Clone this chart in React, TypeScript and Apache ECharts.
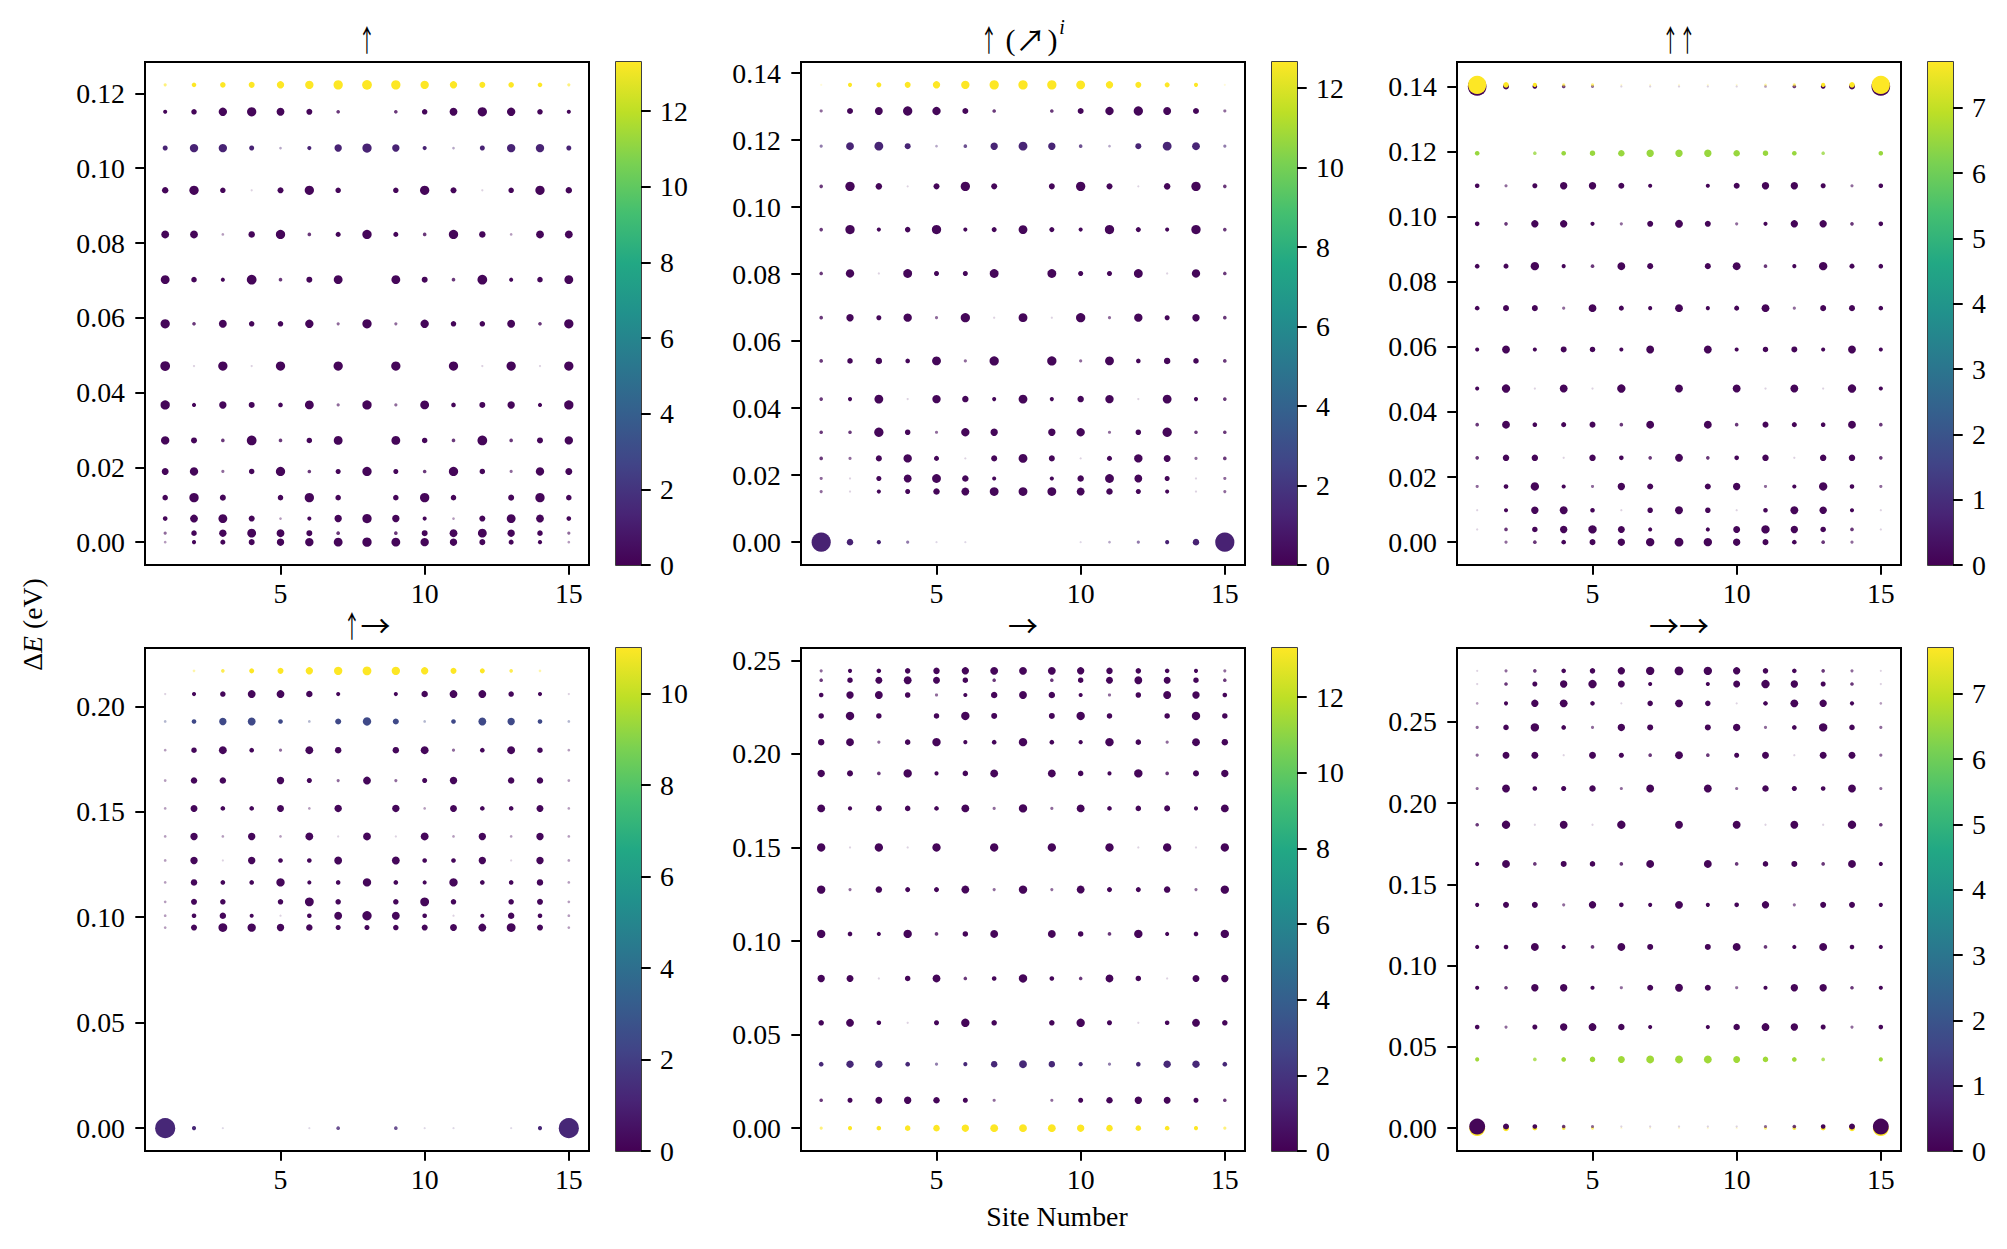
import { useEffect, useRef } from "react";
import * as echarts from "echarts";

// ---------------- DATA ----------------
const sites = [1, 2, 3, 4, 5, 6, 7, 8, 9, 10, 11, 12, 13, 14, 15];
const xTicks = [5, 10, 15];

// Panel A: ↑
const levelsA = [0.1223, 0.1151, 0.1054, 0.0941, 0.0823, 0.0702, 0.0584, 0.0471, 0.0367, 0.0272, 0.0189, 0.0119, 0.0063, 0.0024, 0.0];
const colorsA = [13.3, 0.2, 1.3, 0.2, 0.2, 0.2, 0.2, 0.2, 0.2, 0.2, 0.2, 0.2, 0.2, 0.2, 0.2];
const weightsA = [
  [4, 7, 9, 10, 13, 15, 17, 18, 17, 15, 13, 10, 9, 7, 4],
  [6, 9, 15, 17, 14, 10, 5, 0, 5, 9, 14, 17, 15, 9, 6],
  [8, 15, 15, 8, 3, 6, 13, 17, 13, 6, 3, 8, 15, 15, 8],
  [11, 17, 9, 2, 10, 17, 9, 0, 9, 17, 10, 2, 9, 17, 11],
  [14, 14, 3, 11, 17, 5, 8, 17, 8, 5, 17, 11, 3, 14, 14],
  [16, 9, 6, 18, 5, 10, 16, 0, 16, 10, 5, 18, 6, 9, 16],
  [17, 5, 14, 9, 9, 15, 4, 17, 4, 15, 9, 9, 14, 5, 17],
  [18, 2, 17, 2, 17, 0, 17, 0, 17, 0, 17, 2, 17, 2, 17],
  [17, 6, 13, 10, 7, 16, 4, 17, 4, 16, 7, 10, 13, 6, 17],
  [15, 10, 5, 18, 5, 9, 16, 0, 16, 9, 5, 18, 5, 10, 15],
  [12, 15, 4, 9, 17, 5, 8, 17, 8, 5, 17, 9, 4, 15, 12],
  [9, 17, 10, 0, 9, 17, 9, 0, 9, 17, 9, 0, 10, 17, 9],
  [7, 14, 16, 10, 3, 6, 13, 17, 13, 6, 3, 10, 16, 14, 7],
  [4, 9, 13, 16, 14, 10, 5, 0, 5, 10, 14, 16, 13, 9, 4],
  [3, 6, 8, 10, 13, 15, 16, 17, 16, 15, 13, 10, 8, 6, 3],
];

// Panel B: ↑(↗)^i
const levelsB = [0.1365, 0.1287, 0.1182, 0.1062, 0.0933, 0.0802, 0.067, 0.0541, 0.0427, 0.0328, 0.025, 0.019, 0.0151, 0.0];
const colorsB = [12.66, 0.2, 1.3, 0.2, 0.2, 0.2, 0.2, 0.2, 0.2, 0.2, 0.2, 0.2, 0.2, 1.2];
const weightsB = [
  [2, 6, 8, 10, 13, 15, 17, 17, 17, 16, 13, 10, 8, 6, 2],
  [4, 10, 14, 17, 15, 10, 5, 0, 5, 10, 15, 17, 14, 10, 4],
  [4, 14, 16, 10, 3, 5, 13, 16, 13, 5, 3, 10, 16, 14, 4],
  [5, 17, 11, 2, 10, 17, 10, 0, 10, 17, 10, 2, 11, 17, 5],
  [5, 17, 6, 9, 17, 6, 8, 16, 8, 6, 17, 8, 6, 17, 5],
  [5, 15, 2, 16, 8, 8, 16, 0, 16, 8, 8, 16, 2, 15, 5],
  [5, 13, 8, 15, 4, 17, 2, 16, 2, 17, 4, 15, 8, 13, 5],
  [5, 9, 11, 7, 16, 4, 17, 0, 17, 4, 16, 7, 11, 9, 5],
  [5, 6, 16, 2, 15, 11, 6, 16, 6, 11, 15, 2, 16, 6, 5],
  [5, 5, 17, 9, 4, 15, 13, 0, 13, 15, 4, 9, 17, 5, 5],
  [5, 4, 10, 15, 8, 2, 10, 16, 10, 2, 8, 15, 12, 4, 5],
  [4, 2, 8, 14, 16, 11, 6, 0, 6, 11, 16, 14, 8, 2, 4],
  [4, 2, 6, 8, 11, 14, 16, 16, 16, 14, 11, 8, 6, 2, 4],
  [38, 11, 6, 4, 2, 2, 0, 0, 0, 2, 3, 4, 6, 11, 38],
];

// Panel C: ↑↑
const levelsC = [0.14, 0.1405, 0.1195, 0.1095, 0.0978, 0.0848, 0.0719, 0.0592, 0.0472, 0.0361, 0.0259, 0.0171, 0.0098, 0.0039, 0.0];
const colorsC = [0.1, 7.7, 6.5, 0.1, 0.1, 0.1, 0.1, 0.1, 0.1, 0.1, 0.1, 0.1, 0.1, 0.1, 0.1];
const weightsC = [
  [37, 10, 7, 5, 4, 2, 2, 2, 2, 2, 3, 5, 7, 10, 37],
  [36, 9, 6, 4, 4, 2, 2, 2, 2, 2, 3, 4, 6, 9, 36],
  [7, 0, 5, 7, 9, 11, 13, 13, 13, 11, 9, 7, 5, 0, 7],
  [7, 4, 8, 13, 13, 10, 6, 0, 6, 10, 13, 13, 8, 4, 7],
  [7, 5, 13, 13, 6, 4, 10, 14, 10, 4, 6, 13, 13, 5, 7],
  [7, 8, 15, 6, 5, 14, 10, 0, 10, 14, 5, 6, 15, 8, 7],
  [7, 10, 10, 4, 14, 8, 6, 14, 6, 8, 14, 4, 10, 10, 7],
  [6, 14, 6, 10, 9, 6, 14, 0, 14, 6, 9, 10, 6, 14, 6],
  [6, 15, 2, 14, 2, 15, 0, 14, 0, 14, 2, 14, 2, 15, 6],
  [5, 14, 7, 8, 10, 5, 14, 0, 14, 5, 10, 8, 7, 14, 5],
  [5, 11, 11, 2, 11, 7, 5, 14, 5, 7, 11, 2, 11, 11, 5],
  [4, 7, 15, 6, 4, 13, 10, 0, 10, 13, 4, 6, 15, 7, 4],
  [2, 6, 13, 14, 7, 2, 9, 14, 9, 2, 7, 14, 13, 6, 2],
  [2, 5, 9, 13, 15, 12, 6, 0, 6, 12, 15, 13, 9, 5, 2],
  [0, 4, 5, 7, 10, 13, 15, 16, 15, 13, 10, 7, 5, 4, 0],
];

// Panel D: ↑→
const levelsD = [0.2168, 0.2058, 0.1928, 0.1792, 0.1648, 0.1516, 0.1383, 0.1269, 0.1165, 0.1073, 0.1007, 0.0951, 0.0];
const colorsD = [11.0, 0.2, 2.4, 0.2, 0.2, 0.2, 0.2, 0.2, 0.2, 0.2, 0.2, 0.2, 1.2];
const weightsD = [
  [0, 3, 5, 8, 10, 13, 15, 16, 15, 13, 10, 8, 5, 3, 0],
  [2, 6, 9, 14, 14, 11, 6, 0, 6, 11, 14, 14, 9, 6, 2],
  [3, 7, 13, 14, 7, 3, 10, 15, 10, 3, 7, 14, 13, 7, 3],
  [3, 9, 14, 7, 4, 14, 11, 0, 11, 14, 4, 7, 14, 9, 3],
  [3, 11, 11, 0, 13, 8, 4, 14, 4, 8, 13, 0, 11, 11, 3],
  [3, 12, 7, 7, 12, 3, 13, 0, 13, 3, 12, 7, 7, 12, 3],
  [3, 13, 3, 13, 3, 14, 2, 14, 2, 14, 3, 13, 3, 13, 3],
  [3, 13, 2, 13, 7, 7, 14, 0, 14, 7, 7, 13, 2, 13, 3],
  [3, 11, 7, 7, 15, 6, 7, 15, 7, 6, 15, 7, 7, 11, 3],
  [3, 10, 9, 0, 9, 16, 9, 0, 9, 16, 9, 0, 9, 10, 3],
  [3, 7, 11, 6, 2, 7, 14, 17, 14, 7, 2, 6, 11, 7, 3],
  [3, 10, 16, 15, 13, 11, 8, 8, 9, 10, 12, 14, 16, 10, 3],
  [40, 6, 2, 0, 0, 2, 5, 0, 5, 2, 2, 0, 2, 6, 40],
];

// Panel E: →
const levelsE = [0.2444, 0.2394, 0.2315, 0.2203, 0.2063, 0.1896, 0.1709, 0.15, 0.1275, 0.1038, 0.08, 0.0563, 0.0342, 0.0149, 0.0];
const colorsE = [0.2, 0.2, 0.2, 0.2, 0.2, 0.2, 0.2, 0.2, 0.2, 0.2, 0.2, 0.2, 1.5, 0.2, 13.3];
const weightsE = [
  [4, 6, 7, 9, 11, 13, 14, 14, 14, 13, 11, 9, 7, 6, 4],
  [5, 9, 12, 14, 12, 9, 5, 0, 5, 9, 12, 14, 12, 9, 5],
  [7, 13, 14, 9, 4, 6, 11, 14, 11, 6, 4, 9, 14, 13, 7],
  [9, 15, 9, 0, 9, 15, 10, 0, 10, 15, 9, 0, 9, 15, 9],
  [11, 14, 4, 9, 15, 6, 7, 15, 7, 6, 15, 9, 4, 14, 11],
  [13, 10, 5, 15, 6, 9, 14, 0, 14, 9, 6, 15, 5, 10, 13],
  [14, 6, 10, 9, 7, 14, 4, 15, 4, 14, 7, 9, 10, 6, 14],
  [15, 2, 15, 2, 15, 0, 15, 0, 15, 0, 15, 2, 15, 2, 15],
  [15, 4, 11, 8, 8, 14, 4, 15, 4, 14, 8, 8, 11, 4, 15],
  [15, 7, 6, 15, 5, 9, 14, 0, 14, 9, 5, 15, 6, 7, 15],
  [13, 12, 2, 9, 14, 5, 7, 15, 7, 5, 14, 9, 2, 12, 13],
  [9, 14, 7, 2, 8, 15, 9, 0, 9, 15, 8, 2, 7, 14, 9],
  [7, 13, 13, 7, 4, 6, 11, 14, 11, 6, 4, 7, 13, 13, 7],
  [5, 8, 12, 13, 11, 8, 4, 0, 4, 8, 11, 13, 12, 8, 5],
  [4, 6, 7, 9, 11, 13, 14, 14, 14, 13, 11, 9, 7, 6, 4],
];

// Panel F: →→
const levelsF = [0.2814, 0.2733, 0.2614, 0.2466, 0.2295, 0.209, 0.1867, 0.1626, 0.1374, 0.1115, 0.0864, 0.0622, 0.0423, 0.0, 0.001];
const colorsF = [0.1, 0.1, 0.1, 0.1, 0.1, 0.1, 0.1, 0.1, 0.1, 0.1, 0.1, 0.1, 6.6, 7.7, 0.1];
const weightsF = [
  [2, 4, 5, 7, 9, 13, 15, 16, 15, 13, 9, 7, 5, 4, 2],
  [2, 5, 8, 13, 15, 12, 6, 0, 6, 12, 15, 13, 8, 5, 2],
  [3, 6, 13, 14, 7, 2, 9, 14, 9, 2, 7, 14, 13, 6, 3],
  [4, 9, 15, 7, 4, 13, 10, 0, 10, 13, 4, 7, 15, 9, 4],
  [4, 12, 12, 2, 12, 8, 5, 14, 5, 8, 12, 2, 12, 12, 4],
  [4, 14, 7, 8, 11, 4, 14, 0, 14, 4, 11, 8, 7, 14, 4],
  [5, 15, 2, 14, 2, 15, 0, 14, 0, 14, 2, 14, 2, 15, 5],
  [6, 14, 5, 10, 9, 5, 14, 0, 14, 5, 9, 10, 5, 14, 6],
  [6, 10, 10, 4, 13, 7, 6, 14, 6, 7, 13, 4, 10, 10, 6],
  [6, 7, 14, 6, 5, 14, 10, 0, 10, 14, 5, 6, 14, 7, 6],
  [6, 5, 13, 13, 6, 4, 10, 14, 10, 4, 6, 13, 13, 5, 6],
  [7, 4, 8, 13, 14, 11, 6, 0, 6, 11, 14, 13, 8, 4, 7],
  [6, 0, 5, 7, 9, 12, 14, 14, 14, 12, 9, 7, 5, 0, 6],
  [31, 10, 7, 5, 4, 2, 2, 2, 2, 2, 4, 5, 7, 10, 31],
  [31, 10, 7, 5, 4, 2, 2, 2, 2, 2, 4, 5, 7, 10, 31],
];

const yTicksA = [0, 0.02, 0.04, 0.06, 0.08, 0.1, 0.12];
const yTicksB = [0, 0.02, 0.04, 0.06, 0.08, 0.1, 0.12, 0.14];
const yTicksC = [0, 0.02, 0.04, 0.06, 0.08, 0.1, 0.12, 0.14];
const yTicksD = [0, 0.05, 0.1, 0.15, 0.2];
const yTicksE = [0, 0.05, 0.1, 0.15, 0.2, 0.25];
const yTicksF = [0, 0.05, 0.1, 0.15, 0.2, 0.25];

const cbarMaxes = [13.3, 12.66, 7.7, 11.0, 13.3, 7.7];
const cbarTicksA = [0, 2, 4, 6, 8, 10, 12];
const cbarTicksB = [0, 2, 4, 6, 8, 10, 12];
const cbarTicksC = [0, 1, 2, 3, 4, 5, 6, 7];
const cbarTicksD = [0, 2, 4, 6, 8, 10];
const cbarTicksE = [0, 2, 4, 6, 8, 10, 12];
const cbarTicksF = [0, 1, 2, 3, 4, 5, 6, 7];

// title pieces: [text, kind]; kind u = up arrow, r = wide arrow, n = serif text, s = italic superscript
const titlePieces: [string, string][][] = [
  [["↑", "u"]],
  [["↑", "u"], ["(", "n"], ["↗", "r"], [")", "n"], ["i", "s"]],
  [["↑", "u"], ["↑", "u"]],
  [["↑", "u"], ["→", "r"]],
  [["→", "r"]],
  [["→", "r"], ["→", "r"]],
];
const xLabel = "Site Number";

// ---------------- STYLE ----------------
const VIRIDIS = ["#440154", "#482475", "#414487", "#355f8d", "#2a788e", "#21918c", "#22a884", "#44bf70", "#7ad151", "#bddf26", "#fde725"];
const FONT = "'Liberation Serif', 'DejaVu Serif', serif";
const ARROW_FONT = "'Noto Sans CJK JP', 'DejaVu Sans', sans-serif";
const FS = 27.8;
const TFS = 30;
const SIZE_A = 0.47;
const SIZE_B = 1.3;
const COL_LEFT = [145, 801, 1457];
const ROW_TOP = [62, 648];
const FRAME_W = 444;
const FRAME_H = 503;
const CB_GAP = 27;
const CB_W = 25;
const UP_SCALE = 0.56;
const PIECE_W: Record<string, number> = { u: 17, r: 30, n: 10, s: 7 };
const PIECE_GAP: Record<string, number> = { u: 0, r: 0, n: 2, s: 1 };

const panels = [
  { levels: levelsA, colors: colorsA, weights: weightsA, yTicks: yTicksA, cbTicks: cbarTicksA },
  { levels: levelsB, colors: colorsB, weights: weightsB, yTicks: yTicksB, cbTicks: cbarTicksB },
  { levels: levelsC, colors: colorsC, weights: weightsC, yTicks: yTicksC, cbTicks: cbarTicksC },
  { levels: levelsD, colors: colorsD, weights: weightsD, yTicks: yTicksD, cbTicks: cbarTicksD },
  { levels: levelsE, colors: colorsE, weights: weightsE, yTicks: yTicksE, cbTicks: cbarTicksE },
  { levels: levelsF, colors: colorsF, weights: weightsF, yTicks: yTicksF, cbTicks: cbarTicksF },
];

function opacityFor(w: number) {
  if (w <= 2) return 0.18;
  if (w === 3) return 0.4;
  if (w === 4) return 0.6;
  if (w === 5) return 0.8;
  return 1;
}

function titleGraphics(pieces: [string, string][], cx: number, bottom: number) {
  const gaps = pieces.map(([t, k], j) => (j === 0 ? 0 : PIECE_GAP[k] + (t === "(" ? 6 : 0)));
  const total = pieces.reduce((acc, [, k], j) => acc + PIECE_W[k] + gaps[j], 0);
  let x = cx - total / 2;
  const out: any[] = [];
  pieces.forEach(([t, k], j) => {
    x += gaps[j];
    const w = PIECE_W[k];
    const center = x + w / 2;
    if (k === "u") {
      out.push({ type: "text", x: center, y: bottom, scaleX: UP_SCALE,
        style: { text: t, x: 0, y: 0, fontFamily: ARROW_FONT, fontSize: TFS, fill: "#000", align: "center", verticalAlign: "bottom" } });
    } else if (k === "r") {
      out.push({ type: "text", x: center, y: bottom,
        style: { text: t, x: 0, y: 0, fontFamily: ARROW_FONT, fontSize: TFS, fill: "#000", align: "center", verticalAlign: "bottom" } });
    } else if (k === "n") {
      out.push({ type: "text", x: center, y: bottom + 1,
        style: { text: t, x: 0, y: 0, fontFamily: FONT, fontSize: TFS, fill: "#000", align: "center", verticalAlign: "bottom" } });
    } else {
      out.push({ type: "text", x: center, y: bottom - 16,
        style: { text: t, x: 0, y: 0, fontFamily: FONT, fontSize: 20, fontStyle: "italic", fill: "#000", align: "center", verticalAlign: "bottom" } });
    }
    x += w;
  });
  return out;
}

function buildOption() {
  const grid: any[] = [];
  const xAxis: any[] = [];
  const yAxis: any[] = [];
  const series: any[] = [];
  const visualMap: any[] = [];
  const graphic: any[] = [];

  const span = sites[sites.length - 1] - sites[0];
  const xMin = sites[0] - 0.05 * span;
  const xMax = sites[sites.length - 1] + 0.05 * span;

  const tickStyle = { show: true, length: 9.7, inside: false, lineStyle: { color: "#000", width: 2 } };
  const labelBase = { color: "#000", fontFamily: FONT, fontSize: FS };
  const noLine = { show: false, onZero: false };

  panels.forEach((p, i) => {
    const col = i % 3;
    const row = Math.floor(i / 3);
    const left = COL_LEFT[col];
    const top = ROW_TOP[row];
    const yLo = Math.min(...p.levels);
    const yHi = Math.max(...p.levels);
    const pad = 0.05 * (yHi - yLo);

    grid.push({ left, top, width: FRAME_W, height: FRAME_H, show: true, borderColor: "#000", borderWidth: 2, backgroundColor: "#fff", containLabel: false });
    grid.push({ left: left + FRAME_W + CB_GAP, top, width: CB_W, height: FRAME_H, show: true, borderColor: "#000", borderWidth: 1.5, containLabel: false });
    const gi = grid.length - 2;
    const cgi = grid.length - 1;

    xAxis.push({
      type: "value", gridIndex: gi, min: xMin, max: xMax, position: "bottom",
      axisLine: noLine, splitLine: { show: false },
      axisTick: { ...tickStyle, customValues: xTicks },
      axisLabel: { ...labelBase, margin: 14, customValues: xTicks, formatter: (v: number) => String(Math.round(v)) },
    });
    yAxis.push({
      type: "value", gridIndex: gi, min: yLo - pad, max: yHi + pad, position: "left",
      axisLine: noLine, splitLine: { show: false },
      axisTick: { ...tickStyle, customValues: p.yTicks },
      axisLabel: { ...labelBase, margin: 20, customValues: p.yTicks, formatter: (v: number) => v.toFixed(2) },
    });
    xAxis.push({
      type: "category", gridIndex: cgi, data: ["c"], boundaryGap: true,
      axisLine: noLine, axisTick: { show: false }, axisLabel: { show: false }, splitLine: { show: false },
    });
    yAxis.push({
      type: "value", gridIndex: cgi, min: 0, max: cbarMaxes[i], position: "right",
      axisLine: noLine, splitLine: { show: false },
      axisTick: { ...tickStyle, customValues: p.cbTicks },
      axisLabel: { ...labelBase, margin: 19, customValues: p.cbTicks, formatter: (v: number) => String(Math.round(v)) },
    });

    const data: any[] = [];
    p.levels.forEach((lv, r) => {
      sites.forEach((s, k) => {
        const w = p.weights[r][k];
        if (w > 0) data.push({ value: [s, lv, p.colors[r], w], itemStyle: { opacity: opacityFor(w) } });
      });
    });
    series.push({
      type: "scatter", xAxisIndex: gi, yAxisIndex: gi, data,
      symbol: "circle",
      symbolSize: (v: number[]) => v[3] * SIZE_A + SIZE_B,
      itemStyle: { opacity: 1 },
      emphasis: { disabled: true }, silent: true,
    });
    visualMap.push({
      type: "continuous", show: false, seriesIndex: series.length - 1, dimension: 2,
      min: 0, max: cbarMaxes[i], inRange: { color: VIRIDIS },
    });
    series.push({
      type: "bar", xAxisIndex: cgi, yAxisIndex: cgi, data: [cbarMaxes[i]], barWidth: "100%", silent: true,
      itemStyle: {
        color: new echarts.graphic.LinearGradient(0, 1, 0, 0, VIRIDIS.map((c, j) => ({ offset: j / (VIRIDIS.length - 1), color: c }))),
      },
    });

    graphic.push(...titleGraphics(titlePieces[i], left + FRAME_W / 2, top - 9));
  });

  graphic.push({
    type: "text", x: 32, y: 624.5, rotation: Math.PI / 2,
    style: {
      text: "{n|Δ}{i|E}{n| (eV)}", align: "center", verticalAlign: "middle",
      rich: {
        n: { fontFamily: FONT, fontSize: FS, fill: "#000" },
        i: { fontFamily: FONT, fontSize: FS, fontStyle: "italic", fill: "#000" },
      },
    },
  });
  graphic.push({
    type: "text", x: 1057, y: 1216,
    style: { text: xLabel, align: "center", verticalAlign: "middle", fontFamily: FONT, fontSize: FS, fill: "#000" },
  });

  return { animation: false, backgroundColor: "#fff", grid, xAxis, yAxis, series, visualMap, graphic };
}

export default function App() {
  const ref = useRef<HTMLDivElement>(null);
  useEffect(() => {
    document.body.style.margin = "0";
    if (!ref.current) return;
    const chart = echarts.init(ref.current, undefined, { renderer: "svg" });
    chart.setOption(buildOption() as any);
    return () => chart.dispose();
  }, []);
  return <div ref={ref} style={{ width: 2007, height: 1249 }} />;
}
